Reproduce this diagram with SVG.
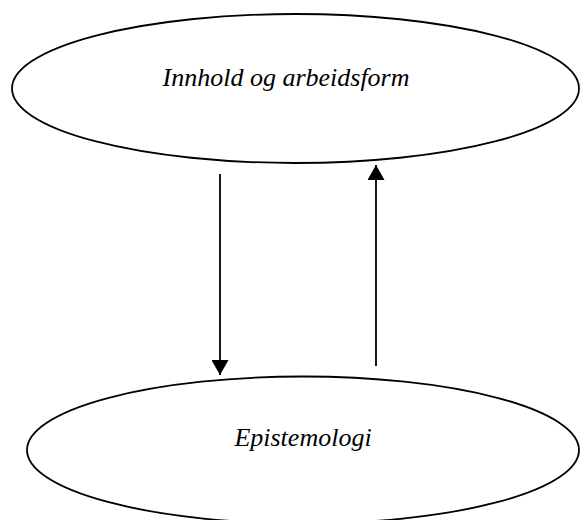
<svg xmlns="http://www.w3.org/2000/svg" width="580" height="520" viewBox="0 0 580 520">
<style>
.node ellipse{fill:#fff;stroke:#000;stroke-width:1.8}
.lbl{font-family:"Liberation Serif","Times New Roman",serif;font-style:italic;font-size:26px;fill:#000;text-anchor:middle}
.conn line{stroke:#000;stroke-width:1.8}
</style>
<defs>
<marker id="ah" viewBox="0 0 15 17" refX="15" refY="8.5" markerWidth="15" markerHeight="17" markerUnits="userSpaceOnUse" orient="auto">
<path d="M0,0 L15,8.5 L0,17 z" fill="#000"/>
</marker>
</defs>
<rect width="580" height="520" fill="#fff"/>
<g id="node-innhold" class="node">
<ellipse cx="295.5" cy="88.5" rx="283.5" ry="74.5"/>
<text class="lbl" x="286" y="86">Innhold og arbeidsform</text>
</g>
<g id="node-epistemologi" class="node">
<ellipse cx="303" cy="450" rx="276" ry="73.5"/>
<text class="lbl" x="303" y="446">Epistemologi</text>
</g>
<g id="connectors" class="conn">
<line x1="220" y1="174" x2="220" y2="375" marker-end="url(#ah)"/>
<line x1="376" y1="366" x2="376" y2="165" marker-end="url(#ah)"/>
</g>
</svg>
